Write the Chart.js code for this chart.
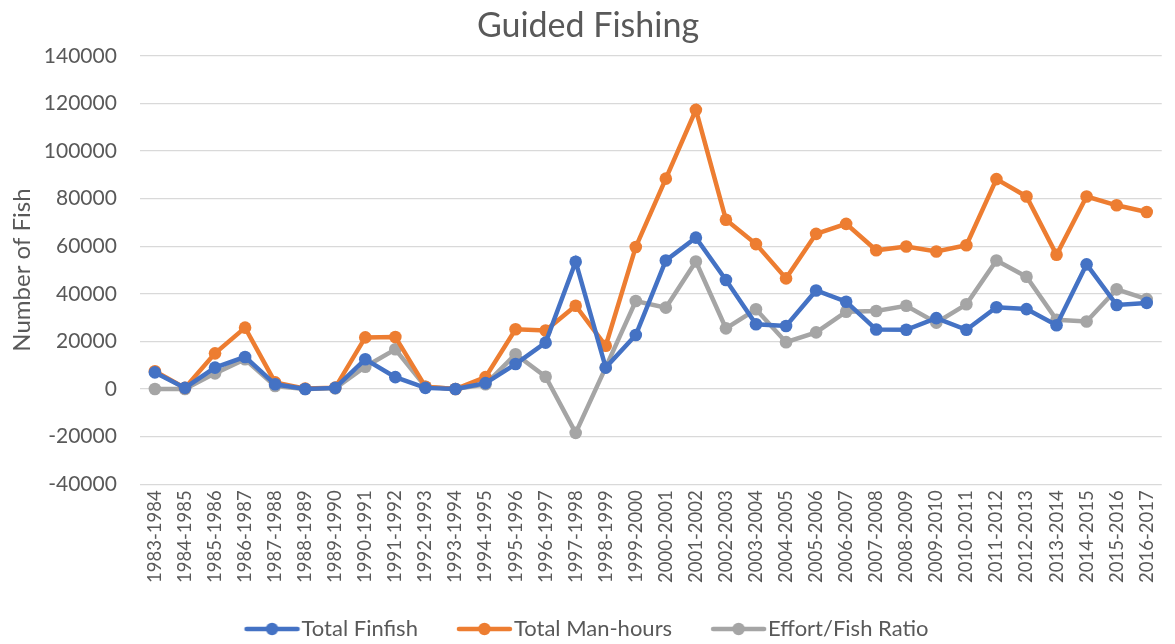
<!DOCTYPE html>
<html>
<head>
<meta charset="utf-8">
<script src="https://cdn.jsdelivr.net/npm/chart.js@4"></script>
<style>
  html, body { margin: 0; padding: 0; background: #fff; }
  #wrap { width: 1175px; height: 644px; }
</style>
</head>
<body>
<div id="wrap"><canvas id="c" width="1175" height="644"></canvas></div>
<script>
const categories = ["1983-1984","1984-1985","1985-1986","1986-1987","1987-1988","1988-1989","1989-1990","1990-1991","1991-1992","1992-1993","1993-1994","1994-1995","1995-1996","1996-1997","1997-1998","1998-1999","1999-2000","2000-2001","2001-2002","2002-2003","2003-2004","2004-2005","2005-2006","2006-2007","2007-2008","2008-2009","2009-2010","2010-2011","2011-2012","2012-2013","2013-2014","2014-2015","2015-2016","2016-2017"];
const totalFinfish = [7000, 500, 9000, 13500, 2000, 0, 500, 12500, 5000, 500, 0, 2500, 10500, 19500, 53500, 9000, 22700, 54000, 63600, 45800, 27200, 26500, 41400, 36700, 25000, 24900, 29800, 24900, 34400, 33600, 26800, 52400, 35300, 36200];
const totalManHours = [7500, 500, 15000, 25800, 2800, 200, 600, 21700, 21900, 1000, 0, 5000, 25100, 24600, 35000, 18200, 59700, 88400, 117300, 71100, 60900, 46500, 65200, 69400, 58300, 59900, 57800, 60400, 88200, 80900, 56400, 80900, 77200, 74400];
const effortFishRatio = [0, 0, 6600, 12500, 1300, 0, 300, 9400, 16700, 1000, 0, 2000, 14600, 5200, -18400, 9100, 37000, 34200, 53600, 25500, 33500, 19700, 23800, 32500, 32800, 35000, 27900, 35600, 54000, 47200, 29100, 28400, 41900, 37800];
const yMin = -40000, yMax = 140000, yStep = 20000;

const COLORS = ["#4472C4", "#ED7D31", "#A5A5A5"];
const TEXT = "#595959";
const FONT = "Lato, 'Open Sans', sans-serif";

const LEG_BOX = 75;      // legend box width (pointStyleWidth)
const LEG_PAD = 10;      // legend item padding

// legend marker: transparent left part + 55px line with a circle marker on the right
function legendIcon(color) {
  const cv = document.createElement('canvas');
  cv.width = LEG_BOX + 20; cv.height = 16;
  const g = cv.getContext('2d');
  const x1 = cv.width - 56, x2 = cv.width - 1;
  g.strokeStyle = color; g.lineWidth = 4.5; g.lineCap = 'round';
  g.beginPath(); g.moveTo(x1 + 2, 8); g.lineTo(x2 - 2, 8); g.stroke();
  g.fillStyle = color;
  g.beginPath(); g.arc((x1 + x2) / 2, 8, 6.2, 0, Math.PI * 2); g.fill();
  return cv;
}
const icons = COLORS.map(legendIcon);

function ds(label, data, color) {
  return {
    label, data,
    borderColor: color, backgroundColor: color,
    borderWidth: 4.5, pointRadius: 6.3, pointHoverRadius: 6.3,
    pointBackgroundColor: color, pointBorderColor: color, pointBorderWidth: 0,
    tension: 0
  };
}

const legendPlace = {
  id: 'legendPlace',
  afterLayout(chart) {
    const lg = chart.legend;
    if (!lg) return;
    const h = lg.bottom - lg.top;
    lg.top = 629 - LEG_PAD - 11;
    lg.bottom = lg.top + h;
    lg.left -= 16; lg.right -= 16;
  }
};

new Chart(document.getElementById('c'), {
  type: 'line',
  data: {
    labels: categories,
    datasets: [
      ds("Total Finfish", totalFinfish, COLORS[0]),
      ds("Total Man-hours", totalManHours, COLORS[1]),
      ds("Effort/Fish Ratio", effortFishRatio, COLORS[2])
    ]
  },
  options: {
    responsive: false,
    animation: false,
    layout: { padding: { left: 4, right: 3, top: 0, bottom: 13 } },
    plugins: {
      title: {
        display: true, text: "Guided Fishing", color: TEXT,
        font: { family: FONT, size: 34, weight: 'normal' },
        padding: { top: 6, bottom: 9 }
      },
      legend: {
        position: 'bottom', align: 'center',
        labels: {
          color: TEXT, font: { family: FONT, size: 22 },
          usePointStyle: true, pointStyleWidth: LEG_BOX, padding: LEG_PAD,
          generateLabels(chart) {
            return chart.data.datasets.map((d, i) => ({
              text: d.label, pointStyle: icons[i], fillStyle: d.borderColor,
              strokeStyle: d.borderColor, lineWidth: 0, hidden: false,
              datasetIndex: i, fontColor: TEXT
            }));
          }
        }
      },
      tooltip: { enabled: false }
    },
    scales: {
      x: {
        offset: true,
        grid: { display: false, drawTicks: false },
        border: { display: false },
        ticks: {
          color: TEXT, font: { family: FONT, size: 18.5 },
          maxRotation: 90, minRotation: 90, autoSkip: false, padding: 6
        }
      },
      y: {
        min: yMin, max: yMax,
        grid: { color: "#D9D9D9", lineWidth: 1.3, drawTicks: false },
        border: { display: false },
        ticks: {
          stepSize: yStep, color: TEXT, font: { family: FONT, size: 21 }, padding: 23,
          callback: (v) => String(v)
        },
        title: {
          display: true, text: "Number of Fish", color: TEXT,
          font: { family: FONT, size: 24 }, padding: { top: 4, bottom: -16 }
        }
      }
    }
  },
  plugins: [legendPlace]
});
</script>
</body>
</html>
